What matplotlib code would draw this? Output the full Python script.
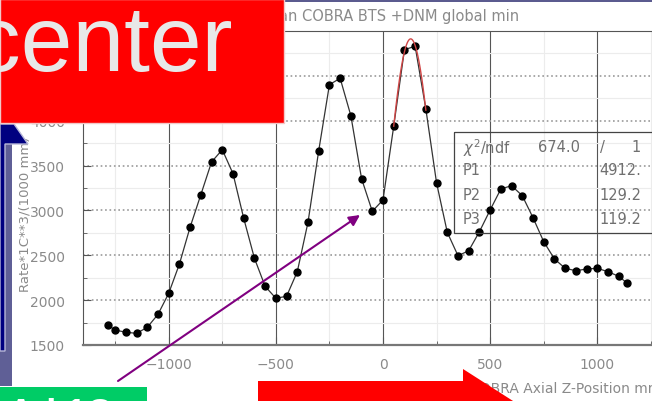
import matplotlib
matplotlib.use("Agg")
import matplotlib.pyplot as plt
import numpy as np
from matplotlib.patches import Rectangle, Polygon

# data
z_pos = [-1285, -1250, -1200, -1150, -1100, -1050, -1000, -950, -900, -850,
         -800, -750, -700, -650, -600, -550, -500, -450, -400, -350,
         -300, -250, -200, -150, -100, -50, 0, 50, 100, 150,
         200, 250, 300, 350, 400, 450, 500, 550, 600, 650,
         700, 750, 800, 850, 900, 950, 1000, 1050, 1100, 1140]
rate = [1723, 1667, 1642, 1630, 1697, 1842, 2076, 2403, 2815, 3176,
        3540, 3677, 3410, 2912, 2467, 2154, 2021, 2043, 2317, 2868,
        3666, 4402, 4473, 4056, 3354, 2990, 3117, 3938, 4792, 4830,
        4130, 3306, 2756, 2495, 2551, 2763, 3005, 3239, 3276, 3164,
        2919, 2652, 2459, 2355, 2328, 2347, 2355, 2317, 2266, 2188]

# gaussian fit shown in the stats box
fit_chi2 = "674.0"
fit_ndf = "1"
fit_p1, fit_p2, fit_p3 = 4912.0, 129.2, 119.2
fit_range = (50, 200)

x_ticks = [-1000, -500, 0, 500, 1000]
y_ticks = [1500, 2000, 2500, 3000, 3500, 4000, 4500]

W, H = 652, 402
GRAY_TXT = "#8a8a8a"


def px_rect(x0, y0, x1, y1):
    """Pixel box (top-left origin) -> figure fraction rect."""
    return [x0 / W, 1 - y1 / H, (x1 - x0) / W, (y1 - y0) / H]


fig = plt.figure(figsize=(W / 100, H / 100), dpi=100)
fig.patch.set_facecolor("white")

ax = fig.add_axes(px_rect(83, 32, 683, 346))
ax.set_xlim(-1400, 1400)
ax.set_ylim(1500, 5000)

ax.set_xticks(x_ticks)
ax.set_xticks(np.arange(-1250, 1400, 250), minor=True)
ax.set_yticks(y_ticks)
ax.set_yticks(np.arange(1500, 5000, 250), minor=True)
ax.tick_params(which="both", direction="in", colors="#555555",
               labelcolor=GRAY_TXT, labelsize=10)
ax.tick_params(axis="x", which="major", length=6, pad=9)
ax.tick_params(axis="y", which="major", length=6, pad=13)
ax.tick_params(which="minor", length=3)

ax.grid(True, axis="x", which="major", color="#555555", lw=0.8)
ax.grid(True, axis="y", which="major", color="#9a9a9a", lw=1.2, ls=":")
ax.grid(True, which="minor", color="#ececec", lw=0.8)
ax.set_axisbelow(True)

for side in ("left", "top", "right"):
    ax.spines[side].set_color("#555555")
    ax.spines[side].set_linewidth(0.8)
ax.spines["bottom"].set_color("#777777")
ax.spines["bottom"].set_linewidth(1.6)

ax.plot(z_pos, rate, color="#333333", lw=0.9, zorder=3)
ax.plot(z_pos, rate, "o", ms=5, color="black", zorder=4)

zz = np.linspace(fit_range[0], fit_range[1], 100)
ax.plot(zz, fit_p1 * np.exp(-0.5 * ((zz - fit_p2) / fit_p3) ** 2),
        color="#d04545", lw=1.0, zorder=5)

# overlay in pixel coordinates for slide decorations and labels
ov = fig.add_axes([0, 0, 1, 1])
ov.set_xlim(0, W)
ov.set_ylim(H, 0)
ov.axis("off")
ov.patch.set_alpha(0)

ov.text(519, 17, "Z Scan COBRA BTS +DNM global min", ha="right", va="center",
        fontsize=10.5, color=GRAY_TXT, zorder=1)
ov.text(25, 292, "Rate*1C**3/(1000 mm)", rotation=90, rotation_mode="anchor",
        ha="left", va="center", fontsize=9.5, color=GRAY_TXT, zorder=1)
ov.text(661, 389, "COBRA Axial Z-Position mm", ha="right", va="center",
        fontsize=10, color=GRAY_TXT, zorder=1)

# stats box
ov.add_patch(Rectangle((454, 133), 260, 101, fc="none", ec="#444444",
                       lw=0.9, zorder=2))
stat_kw = dict(fontsize=10.5, color="#707070", va="center", zorder=2)
ov.text(463, 148, r"$\chi^2$/ndf", ha="left", **stat_kw)
ov.text(580, 148, fit_chi2, ha="right", **stat_kw)
ov.text(602, 148, "/", ha="center", **stat_kw)
ov.text(641, 148, fit_ndf, ha="right", **stat_kw)
for row_y, name, val in [(171, "P1", f"{fit_p1:.0f}."),
                         (196, "P2", f"{fit_p2:.1f}"),
                         (220, "P3", f"{fit_p3:.1f}")]:
    ov.text(463, row_y, name, ha="left", **stat_kw)
    ov.text(641, row_y, val, ha="right", **stat_kw)

# slide shapes on top
ov.add_patch(Rectangle((284, 0), 368, 3, fc="#5b5b8f", ec="none", zorder=3))
ov.add_patch(Rectangle((0, 125), 12, 262, fc="#5f5f96", ec="none", zorder=3))
ov.add_patch(Polygon([(0, 125), (14, 125), (28, 145), (5, 145), (5, 352), (0, 352)],
                     closed=True, fc="#000080", ec="#b8b8d8", lw=1, zorder=4))
ov.add_patch(Rectangle((0, 0), 284, 124, fc="#ff0000", ec="#f2c8c8", lw=1, zorder=5))
ov.text(-26, 71, "center", fontsize=67, family="Liberation Sans",
        color="#e8e8e8", ha="left", va="baseline", zorder=6)

ov.add_patch(Rectangle((0, 388), 147, 30, fc="#00cc66", ec="none", zorder=5))
ov.text(8, 425, "Ad 1C", fontsize=26, family="Liberation Sans", weight="bold",
        color="white", ha="left", va="baseline", zorder=6)

ov.add_patch(Polygon([(258, 382), (463, 382), (463, 370), (560, 432), (258, 432)],
                     closed=True, fc="#ff0000", ec="none", zorder=5))

ov.annotate("", xy=(360, 216), xytext=(118, 382),
            arrowprops=dict(arrowstyle="-|>", color="#800080", lw=1.5,
                            mutation_scale=16, shrinkA=0, shrinkB=0),
            zorder=6)

fig.savefig("out.png", dpi=100)
